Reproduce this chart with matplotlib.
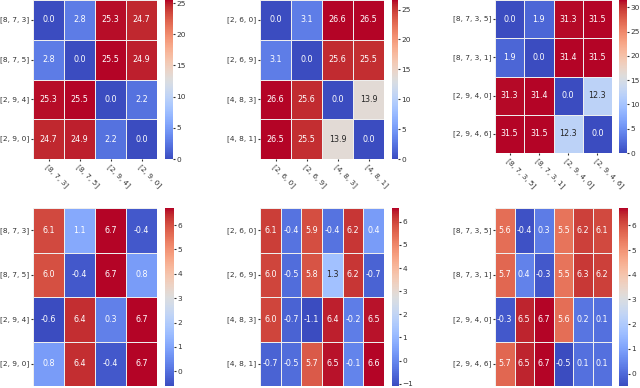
import numpy as np
import matplotlib
matplotlib.use("Agg")
import matplotlib.pyplot as plt
import seaborn as sns

# labels for each panel column
labels_a = ['[8, 7, 3]', '[8, 7, 5]', '[2, 9, 4]', '[2, 9, 0]']
labels_b = ['[2, 6, 0]', '[2, 6, 9]', '[4, 8, 3]', '[4, 8, 1]']
labels_c = ['[8, 7, 3, 5]', '[8, 7, 3, 1]', '[2, 9, 4, 0]', '[2, 9, 4, 6]']

# top row: pairwise distances
dist_a = [[0.0, 2.8, 25.3, 24.7],
          [2.8, 0.0, 25.5, 24.9],
          [25.3, 25.5, 0.0, 2.2],
          [24.7, 24.9, 2.2, 0.0]]
dist_b = [[0.0, 3.1, 26.6, 26.5],
          [3.1, 0.0, 25.6, 25.5],
          [26.6, 25.6, 0.0, 13.9],
          [26.5, 25.5, 13.9, 0.0]]
dist_c = [[0.0, 1.9, 31.3, 31.5],
          [1.9, 0.0, 31.4, 31.5],
          [31.3, 31.4, 0.0, 12.3],
          [31.5, 31.5, 12.3, 0.0]]

# bottom row: feature values
feat_a = [[6.1, 1.1, 6.7, -0.4],
          [6.0, -0.4, 6.7, 0.8],
          [-0.6, 6.4, 0.3, 6.7],
          [0.8, 6.4, -0.4, 6.7]]
feat_b = [[6.1, -0.4, 5.9, -0.4, 6.2, 0.4],
          [6.0, -0.5, 5.8, 1.3, 6.2, -0.7],
          [6.0, -0.7, -1.1, 6.4, -0.2, 6.5],
          [-0.7, -0.5, 5.7, 6.5, -0.1, 6.6]]
feat_c = [[5.6, -0.4, 0.3, 5.5, 6.2, 6.1],
          [5.7, 0.4, -0.3, 5.5, 6.3, 6.2],
          [-0.3, 6.5, 6.7, 5.6, 0.2, 0.1],
          [5.7, 6.5, 6.7, -0.5, 0.1, 0.1]]

W, H = 640, 388
fig = plt.figure(figsize=(W / 100, H / 100), dpi=100)


def px_axes(x0, x1, y0, y1):
    # pixel box (y from top) -> figure axes
    return fig.add_axes([x0 / W, (H - y1) / H, (x1 - x0) / W, (y1 - y0) / H])


def draw(data, labels, box, cbox, xlabels):
    ax = px_axes(*box)
    cax = px_axes(*cbox)
    sns.heatmap(np.array(data), ax=ax, cbar_ax=cax, cmap='coolwarm',
                annot=True, fmt='.1f', linewidths=0.5, linecolor='#eeeeee',
                annot_kws={'size': 5.8},
                xticklabels=labels if xlabels else False,
                yticklabels=labels)
    ax.tick_params(axis='both', labelsize=5.3, length=1.5, pad=1.2, colors='#333333')
    ax.set_yticklabels(labels, rotation=0)
    if xlabels:
        ax.set_xticklabels(labels, rotation=-45, ha='left', rotation_mode='anchor')
    cax.tick_params(labelsize=5.3, length=1.5, pad=1, colors='#333333')


draw(dist_a, labels_a, (33, 157, 0, 159), (165, 173, 0, 159), True)
draw(dist_b, labels_b, (260, 384, 0, 159), (392, 398, 0, 159), True)
draw(dist_c, labels_c, (495, 612, 0, 153), (619, 627, 0, 153), True)
draw(feat_a, labels_a, (33, 157, 208, 386), (165, 174, 208, 386), False)
draw(feat_b, labels_b, (260, 384, 208, 386), (392, 399, 208, 386), False)
draw(feat_c, labels_c, (495, 612, 208, 386), (619, 628, 208, 386), False)

fig.savefig('out.png', dpi=100)
